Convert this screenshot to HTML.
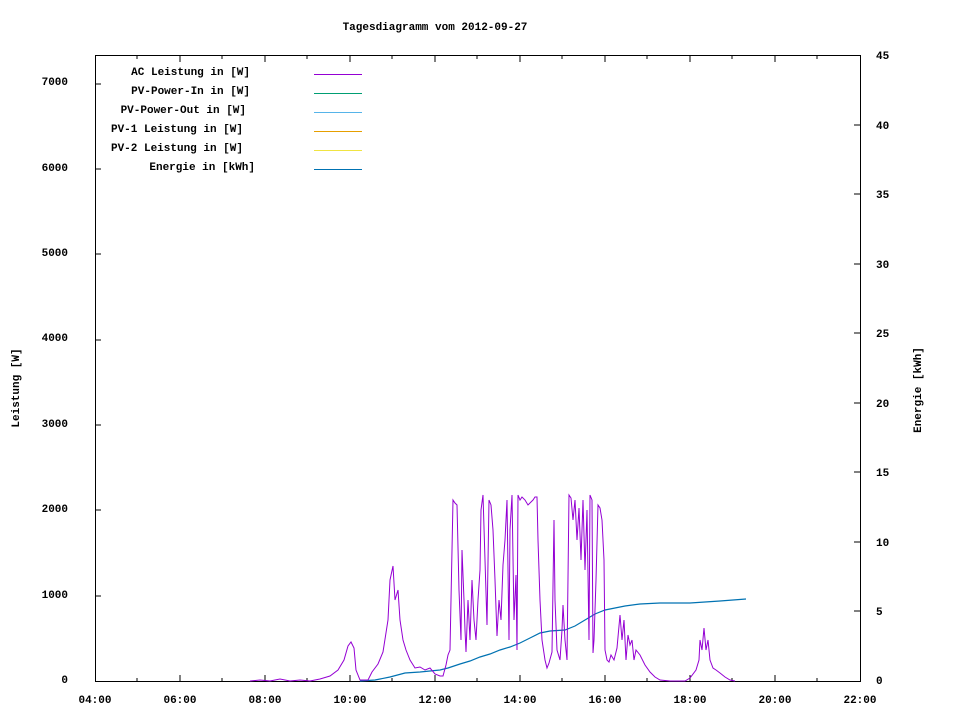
<!DOCTYPE html>
<html><head><meta charset="utf-8"><style>
body{margin:0;background:#fff}
svg text{font-family:"Liberation Mono",monospace;font-size:11px;font-weight:bold;fill:#000}
</style></head><body>
<svg width="960" height="720" xmlns="http://www.w3.org/2000/svg">
<rect width="960" height="720" fill="#fff"/>
<text x="435" y="30" text-anchor="middle">Tagesdiagramm vom 2012-09-27</text>
<rect x="95.5" y="55.5" width="765" height="626" fill="none" stroke="#000"/>
<g stroke="#000">
<path d="M95 596h6M95 510h6M95 425h6M95 340h6M95 254h6M95 169h6M95 84h6"/>
<path d="M860 611h-6M860 542h-6M860 472h-6M860 403h-6M860 333h-6M860 264h-6M860 194h-6M860 125h-6"/>
<path d="M180 681v-6M265 681v-6M350 681v-6M435 681v-6M520 681v-6M605 681v-6M690 681v-6M775 681v-6M137 681v-3M222 681v-3M307 681v-3M392 681v-3M477 681v-3M562 681v-3M647 681v-3M732 681v-3M817 681v-3"/>
<path d="M180 56v6M265 56v6M350 56v6M435 56v6M520 56v6M605 56v6M690 56v6M775 56v6M137 56v3M222 56v3M307 56v3M392 56v3M477 56v3M562 56v3M647 56v3M732 56v3M817 56v3"/>
</g>
<g text-anchor="end">
<text x="68" y="683">0</text><text x="68" y="598">1000</text><text x="68" y="512">2000</text><text x="68" y="427">3000</text><text x="68" y="341">4000</text><text x="68" y="256">5000</text><text x="68" y="171">6000</text><text x="68" y="85">7000</text>
</g>
<g>
<text x="876" y="684">0</text><text x="876" y="615">5</text><text x="876" y="546">10</text><text x="876" y="476">15</text><text x="876" y="407">20</text><text x="876" y="337">25</text><text x="876" y="268">30</text><text x="876" y="198">35</text><text x="876" y="129">40</text><text x="876" y="59">45</text>
</g>
<g text-anchor="middle">
<text x="95" y="703">04:00</text><text x="180" y="703">06:00</text><text x="265" y="703">08:00</text><text x="350" y="703">10:00</text><text x="435" y="703">12:00</text><text x="520" y="703">14:00</text><text x="605" y="703">16:00</text><text x="690" y="703">18:00</text><text x="775" y="703">20:00</text><text x="860" y="703">22:00</text>
</g>
<text transform="translate(19,388) rotate(-90)" text-anchor="middle">Leistung [W]</text>
<text transform="translate(921,390) rotate(-90)" text-anchor="middle">Energie [kWh]</text>
<g text-anchor="end">
<text x="250" y="75">AC Leistung in [W]</text>
<text x="250" y="94">PV-Power-In in [W]</text>
<text x="246" y="113">PV-Power-Out in [W]</text>
<text x="243" y="132">PV-1 Leistung in [W]</text>
<text x="243" y="151">PV-2 Leistung in [W]</text>
<text x="255" y="170">Energie in [kWh]</text>
</g>
<path d="M314 74.5h48" stroke="#9400d3"/>
<path d="M314 93.5h48" stroke="#009e73"/>
<path d="M314 112.5h48" stroke="#56b4e9"/>
<path d="M314 131.5h48" stroke="#e69f00"/>
<path d="M314 150.5h48" stroke="#f0e442"/>
<path d="M314 169.5h48" stroke="#0072b2"/>
<polyline fill="none" stroke="#0072b2" stroke-width="1.2" points="360,681 375,680 390,677 405,673 420,672 440,670 448,668 460,664 470,661 480,657 490,654 500,650 510,647 520,643 530,638 540,633 550,631 565,630 575,626 585,620 595,614 605,610 615,608 625,606 640,604 660,603 690,603 720,601 746,599"/>
<polyline fill="none" stroke="#9400d3" stroke-width="1" points="250,681 260,680 270,681 280,679 290,681 300,680 310,681 320,679 330,676 338,670 344,660 348,646 351,642 354,648 356,670 360,680 368,680 372,672 378,664 383,652 388,620 390,580 393,566 395,600 398,590 400,620 403,640 406,650 410,660 415,668 420,667 425,670 430,668 435,674 440,676 443,676 446,665 448,655 450,650 453,500 455,503 457,505 459,590 461,640 462,550 464,600 465,630 466,652 468,600 470,640 472,580 474,620 476,640 478,600 480,570 481,510 483,495 485,560 487,625 489,500 491,505 493,530 495,580 497,636 499,600 501,620 503,565 505,540 507,500 509,640 510,530 512,495 514,620 516,575 517,650 518,495 520,500 522,497 525,500 528,505 533,500 535,497 537,497 538,540 540,600 542,640 545,660 547,668 549,663 552,652 554,520 555,600 557,650 560,660 562,630 563,605 565,640 567,660 569,495 571,498 573,520 575,500 577,540 579,508 581,560 583,500 585,570 587,510 589,640 590,495 592,500 593,653 594,640 596,580 598,505 600,508 602,520 604,560 605,650 607,660 609,662 611,655 614,660 617,648 620,615 622,640 624,620 626,660 628,635 630,645 632,640 634,660 636,650 640,655 645,665 650,672 655,677 660,680 670,681 685,681 690,678 696,670 699,660 700,640 702,650 704,628 706,650 708,640 710,660 713,668 716,670 720,673 725,677 730,680 735,681"/>
</svg>
</body></html>
